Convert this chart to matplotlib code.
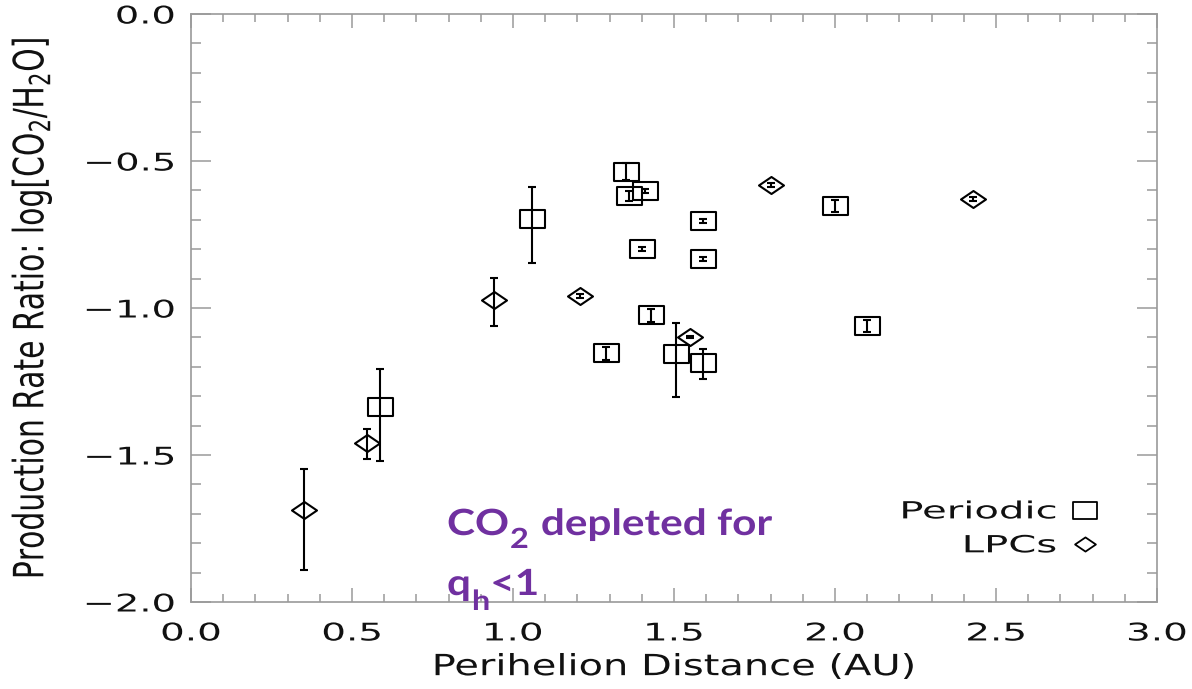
import numpy as np
import matplotlib
matplotlib.use("Agg")
import matplotlib.pyplot as plt
from matplotlib.path import Path
from matplotlib.lines import Line2D
from matplotlib.ticker import FixedLocator, MultipleLocator, FixedFormatter
from matplotlib.patheffects import AbstractPathEffect
from matplotlib.transforms import Affine2D

# ---- data -------------------------------------------------------------
periodic_q = [0.587, 1.059, 1.350, 1.360, 1.410, 1.400, 1.590, 1.590,
              1.430, 1.290, 1.505, 1.590, 2.001, 2.100]
periodic_ratio = [-1.336, -0.698, -0.536, -0.618, -0.602, -0.798, -0.705,
                  -0.834, -1.025, -1.154, -1.158, -1.188, -0.653, -1.061]
periodic_err_lo = [0.184, 0.148, 0.029, 0.017, 0.008, 0.007, 0.007, 0.006,
                   0.023, 0.023, 0.144, 0.053, 0.020, 0.020]
periodic_err_hi = [0.129, 0.108, 0.029, 0.017, 0.008, 0.007, 0.007, 0.006,
                   0.023, 0.023, 0.107, 0.049, 0.020, 0.020]

lpc_q = [0.351, 0.546, 0.940, 1.209, 1.551, 1.800, 2.430]
lpc_ratio = [-1.687, -1.458, -0.973, -0.960, -1.099, -0.582, -0.629]
lpc_err_lo = [0.205, 0.054, 0.089, 0.006, 0.003, 0.006, 0.006]
lpc_err_hi = [0.139, 0.048, 0.076, 0.006, 0.003, 0.006, 0.006]

x_ticks = [0.0, 0.5, 1.0, 1.5, 2.0, 2.5, 3.0]
x_tick_labels = ["0.0", "0.5", "1.0", "1.5", "2.0", "2.5", "3.0"]
y_ticks = [-2.0, -1.5, -1.0, -0.5, 0.0]
y_tick_labels = ["\u22122.0", "\u22121.5", "\u22121.0", "\u22120.5", "0.0"]


class Widen(AbstractPathEffect):
    """Draw text glyphs stretched horizontally about an anchor.

    ``anchor`` is "left", "center", "right" (edges of the glyph outline)
    or a fixed x position in display pixels.
    """

    def __init__(self, sx, anchor="center"):
        super().__init__()
        self.sx = sx
        self.anchor = anchor

    def draw_path(self, renderer, gc, tpath, affine, rgbFace=None):
        if isinstance(self.anchor, (int, float)):
            x0 = float(self.anchor)
        else:
            ext = tpath.get_extents(affine)
            if self.anchor == "left":
                x0 = ext.x0
            elif self.anchor == "right":
                x0 = ext.x1
            else:
                x0 = 0.5 * (ext.x0 + ext.x1)
        t = affine + Affine2D().translate(-x0, 0).scale(self.sx, 1.0).translate(x0, 0)
        renderer.draw_path(gc, tpath, t, rgbFace)


plt.rcParams["font.family"] = ["DejaVu Sans"]

W, H = 1192, 689
fig = plt.figure(figsize=(W / 100, H / 100), dpi=100)
ax = fig.add_axes([191 / W, (H - 602) / H, 966 / W, 588 / H])

# flattened open square and diamond markers
rect_marker = Path([(-1, -0.72), (1, -0.72), (1, 0.72), (-1, 0.72), (-1, -0.72)],
                   [Path.MOVETO, Path.LINETO, Path.LINETO, Path.LINETO, Path.CLOSEPOLY])
diam_marker = Path([(-1, 0), (0, -0.68), (1, 0), (0, 0.68), (-1, 0)],
                   [Path.MOVETO, Path.LINETO, Path.LINETO, Path.LINETO, Path.CLOSEPOLY])

err_kw = dict(fmt="none", ecolor="black", elinewidth=1.5, capsize=3.2, capthick=1.5)
ax.errorbar(periodic_q, periodic_ratio, yerr=[periodic_err_lo, periodic_err_hi], **err_kw)
ax.errorbar(lpc_q, lpc_ratio, yerr=[lpc_err_lo, lpc_err_hi], **err_kw)
ax.plot(periodic_q, periodic_ratio, linestyle="none", marker=rect_marker, ms=18,
        mfc="none", mec="black", mew=1.5)
ax.plot(lpc_q, lpc_ratio, linestyle="none", marker=diam_marker, ms=18,
        mfc="none", mec="black", mew=1.5)

ax.set_xlim(0.0, 3.0)
ax.set_ylim(-2.0, 0.0)
ax.xaxis.set_major_locator(FixedLocator(x_ticks))
ax.xaxis.set_major_formatter(FixedFormatter(x_tick_labels))
ax.yaxis.set_major_locator(FixedLocator(y_ticks))
ax.yaxis.set_major_formatter(FixedFormatter(y_tick_labels))
ax.xaxis.set_minor_locator(MultipleLocator(0.1))
ax.yaxis.set_minor_locator(MultipleLocator(0.1))

spine_col = "#9a9a9a"
for s in ax.spines.values():
    s.set_color(spine_col)
    s.set_linewidth(1.2)
ax.tick_params(which="both", direction="in", top=True, right=True,
               color=spine_col, width=1.1, labelcolor="#111111")
ax.tick_params(axis="x", which="major", length=10, pad=14, labelsize=17.5)
ax.tick_params(axis="x", which="minor", length=6)
ax.tick_params(axis="y", which="major", length=14.5, pad=11.5, labelsize=17.5)
ax.tick_params(axis="y", which="minor", length=7)

for tk in ax.xaxis.get_major_ticks():
    tk.label1.set_path_effects([Widen(1.6, "center")])
for tk in ax.yaxis.get_major_ticks():
    tk.label1.set_path_effects([Widen(1.58, "right")])

ax.set_xlabel("Perihelion Distance (AU)", fontsize=21, color="#111111")
ax.xaxis.set_label_coords(0.5, -0.087)
ax.xaxis.label.set_path_effects([Widen(1.37, "center")])

ax.set_ylabel(r"Production Rate Ratio: log[CO$_2$/H$_2$O]", fontsize=21.5,
              color="#111111", math_fontfamily="dejavusans")
ax.yaxis.set_label_coords(-0.148, 0.5)
ax.yaxis.label.set_path_effects([Widen(1.4, "center")])

# legend with the marker to the right of its label
leg_handles = [
    Line2D([], [], linestyle="none", marker=rect_marker, ms=17, mfc="none",
           mec="black", mew=1.3),
    Line2D([], [], linestyle="none", marker=diam_marker, ms=15, mfc="none",
           mec="black", mew=1.3),
]
leg = ax.legend(leg_handles, ["Periodic", "LPCs"], loc="lower right",
                bbox_to_anchor=(0.9425, 0.076), frameon=False, markerfirst=False,
                fontsize=17, handlelength=1.4, handletextpad=0.5,
                labelspacing=0.42, borderpad=0, borderaxespad=0)
for t in leg.get_texts():
    t.set_color("#111111")
    t.set_path_effects([Widen(1.7, "right")])

# annotation: two lines built from pieces so the subscripts sit low and large
purple = "#7030A0"
note_x = 447                      # left edge, display pixels
base1, base2 = H - 535, H - 595   # baselines, display pixels from bottom
widen = [Widen(1.17, float(note_x))]
big = dict(fontsize=26, family="Lato", fontweight="bold", color=purple,
           va="baseline", ha="left")
small = dict(big, fontsize=20)

co = fig.text(note_x / W, base1 / H, "CO", **big)
sub2 = ax.annotate("2", xy=(1, base1 - 13), xycoords=(co, "figure pixels"),
                   xytext=(0.5, 0), textcoords="offset points",
                   annotation_clip=False, **small)
rest = ax.annotate("depleted for", xy=(1, base1), xycoords=(sub2, "figure pixels"),
                   xytext=(7.5, 0), textcoords="offset points",
                   annotation_clip=False, **big)
q = fig.text(note_x / W, base2 / H, "q", **big)
subh = ax.annotate("h", xy=(1, base2 - 15), xycoords=(q, "figure pixels"),
                   xytext=(0.5, 0), textcoords="offset points",
                   annotation_clip=False, **small)
lt1 = ax.annotate("<1", xy=(1, base2), xycoords=(subh, "figure pixels"),
                  xytext=(0, 0), textcoords="offset points",
                  annotation_clip=False, **big)
for t in (co, sub2, rest, q, subh, lt1):
    t.set_path_effects(widen)

fig.savefig("out.png", dpi=100, facecolor="white")
